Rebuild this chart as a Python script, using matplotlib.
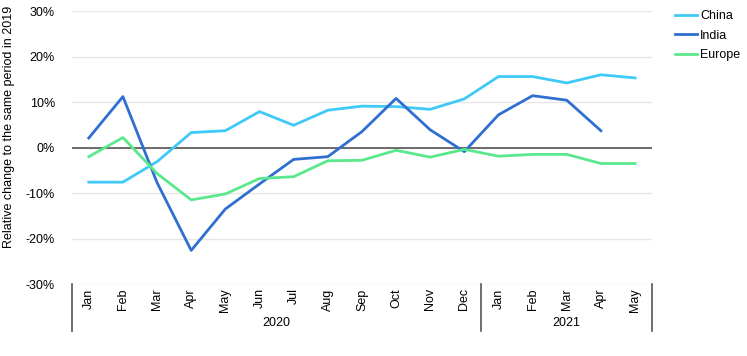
import numpy as np
import matplotlib.pyplot as plt
from matplotlib.lines import Line2D

plt.rcParams['font.family'] = ['Liberation Sans', 'DejaVu Sans']

months = ["Jan", "Feb", "Mar", "Apr", "May", "Jun", "Jul", "Aug", "Sep", "Oct", "Nov", "Dec",
          "Jan", "Feb", "Mar", "Apr", "May"]
years = ["2020", "2021"]
year_counts = [12, 5]

china = [-7.6, -7.6, -3.1, 3.3, 3.7, 7.9, 4.9, 8.2, 9.1, 9.0, 8.4, 10.7, 15.6, 15.6, 14.2, 16.0, 15.3]
india = [2.1, 11.2, -7.7, -22.6, -13.5, -8.0, -2.6, -2.0, 3.5, 10.8, 3.9, -0.9, 7.2, 11.4, 10.4, 3.7]
europe = [-2.0, 2.2, -5.7, -11.5, -10.2, -6.8, -6.4, -2.9, -2.8, -0.6, -2.1, -0.4, -1.9, -1.5, -1.5, -3.5, -3.5]

fig = plt.figure(figsize=(7.47, 3.56), dpi=100)
ax = fig.add_axes([0.096, 0.202, 0.777, 0.767])

x = np.arange(len(months))
ax.plot(x, china, color="#3fc9f7", lw=2, label="China")
ax.plot(np.arange(len(india)), india, color="#2f6fd2", lw=2, label="India")
ax.plot(x, europe, color="#5be88c", lw=2, label="Europe")

ax.set_xlim(-0.5, len(months) - 0.5)
ax.set_ylim(-30, 30)
ax.set_yticks(np.arange(-30, 31, 10))
ax.set_yticklabels([f"{v}%" for v in range(-30, 31, 10)], fontsize=9)
ax.yaxis.grid(True, color="#e6e6e6", lw=1)
ax.set_axisbelow(True)
ax.axhline(0, color="#555555", lw=1.2, zorder=1.5)
for s in ["left", "right", "top", "bottom"]:
    ax.spines[s].set_visible(False)
ax.tick_params(axis="y", length=0, pad=12)
ax.tick_params(axis="x", length=0, pad=3)
ax.set_xticks(x)
ax.set_xticklabels(months, rotation=90, fontsize=9)
ax.set_ylabel("Relative change to the same period in 2019", fontsize=9)
ax.yaxis.set_label_coords(-0.097, 0.575)

# group separators and year labels
start = 0
bounds = [-0.5]
for n in year_counts:
    bounds.append(start + n - 0.5)
    start += n
for b in bounds:
    ax.add_line(Line2D([b, b], [0, -0.17], transform=ax.get_xaxis_transform(),
                       color="#555555", lw=1.2, clip_on=False))
start = 0
for yr, n in zip(years, year_counts):
    ax.text(start + n / 2 - 0.5, -0.143, yr, transform=ax.get_xaxis_transform(),
            ha="center", va="center", fontsize=9)
    start += n

ax.legend(loc="upper left", bbox_to_anchor=(1.02, 1.045), frameon=False, fontsize=9,
          handlelength=1.8, handletextpad=0.2, labelspacing=0.62)

fig.savefig("out.png", dpi=100)
